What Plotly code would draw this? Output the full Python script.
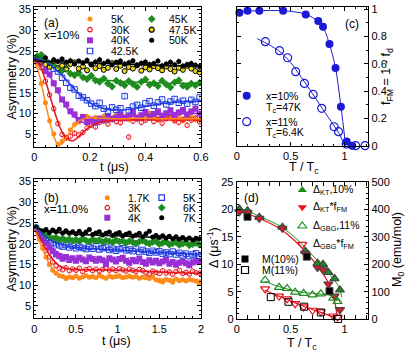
import plotly.graph_objects as go

W, H = 415, 357

# ---------------- panel (a): x = 10 %, asymmetry vs time ----------------
T_A = [0.010, 0.025, 0.040, 0.055, 0.070, 0.085, 0.100, 0.115, 0.130, 0.145,
       0.160, 0.175, 0.190, 0.205, 0.220, 0.235, 0.250, 0.265, 0.280, 0.295,
       0.310, 0.325, 0.340, 0.355, 0.370, 0.385, 0.400, 0.415, 0.430, 0.445,
       0.460, 0.475, 0.490, 0.505, 0.520, 0.535, 0.550, 0.565, 0.580, 0.595]
A_5K = [21.8, 17.2, 12.6, 8.3, 5.1, 2.6, 3.4, 4.2, 6.1, 7.4, 8.0, 8.9, 9.3, 8.4, 9.1, 8.7, 9.4, 8.3, 9.0, 9.6,
        8.8, 9.3, 8.6, 9.8, 9.1, 8.9, 9.7, 10.1, 9.2, 8.6, 9.5, 8.8, 9.4, 8.5, 9.0, 8.3, 8.9, 9.2, 8.6, 8.4]
A_30K = [22.6, 21.0, 17.8, 14.5, 11.2, 7.6, 5.0, 4.2, 4.6, 5.3, 4.9, 5.5, 6.6, 7.2, 6.8, 7.9, 8.3, 7.5, 8.6, 8.1,
         7.8, 8.9, 4.4, 8.2, 8.7, 7.9, 8.4, 9.0, 8.1, 8.6, 7.7, 8.8, 9.1, 8.3, 7.9, 8.6, 7.2, 8.4, 8.9, 8.0]
A_40K = [22.9, 22.3, 20.2, 19.4, 17.3, 15.6, 13.4, 12.2, 10.6, 9.8, 8.5, 9.2, 8.0, 8.6, 7.9, 8.8, 8.4, 9.3, 8.7, 9.1,
         9.8, 8.9, 9.4, 10.2, 9.0, 9.6, 10.4, 9.3, 9.9, 10.6, 9.5, 10.1, 10.8, 9.7, 10.3, 10.9, 9.8, 10.5, 11.2, 10.0]
A_42K = [23.3, 22.9, 22.4, 21.6, 20.8, 20.1, 18.6, 17.4, 16.2, 15.8, 14.3, 13.9, 13.2, 12.4, 11.8, 12.6, 11.2, 10.6, 11.5, 10.9,
         11.3, 14.2, 10.8, 11.7, 12.1, 11.4, 12.5, 13.0, 11.9, 12.7, 13.4, 12.2, 12.9, 13.5, 12.6, 13.1, 12.4, 13.3, 12.8, 13.9]
A_45K = [23.8, 24.1, 22.6, 22.0, 21.5, 20.8, 20.3, 20.9, 19.6, 19.2, 19.8, 18.7, 18.3, 19.1, 18.0, 17.6, 18.4, 17.2, 16.5, 17.9,
         17.4, 16.8, 17.8, 17.1, 16.4, 17.6, 18.2, 16.9, 17.3, 16.6, 17.9, 17.0, 16.3, 17.5, 18.0, 16.7, 16.4, 17.2, 16.8, 17.4]
A_47K = [23.0, 22.4, 21.8, 21.2, 22.6, 20.9, 21.5, 20.6, 21.9, 22.3, 20.8, 21.3, 20.4, 21.8, 20.9, 21.4, 20.5, 21.0, 22.1, 20.7,
         21.5, 20.2, 21.2, 20.8, 21.6, 20.3, 21.1, 20.6, 21.4, 20.9, 20.4, 21.3, 20.7, 20.1, 21.0, 20.5, 21.5, 20.8, 20.2, 19.9]
A_50K = [23.2, 22.8, 23.4, 22.1, 22.9, 22.5, 23.1, 22.3, 22.7, 21.9, 22.6, 22.2, 22.8, 21.8, 22.4, 22.9, 22.0, 22.5, 21.7, 22.3,
         22.6, 21.9, 22.2, 22.7, 21.6, 22.1, 22.4, 21.8, 22.0, 22.6, 21.5, 21.9, 22.3, 21.7, 22.5, 21.4, 21.8, 22.0, 21.6, 21.3]

TF_A = [0, 0.02, 0.04, 0.06, 0.08, 0.09, 0.10, 0.12, 0.14, 0.16, 0.18, 0.20, 0.24, 0.28, 0.32, 0.36, 0.40, 0.45, 0.50, 0.55, 0.60]
FA_5K = [23.0, 18.8, 12.6, 6.9, 3.0, 2.5, 2.8, 4.8, 6.9, 8.2, 8.8, 9.0, 8.9, 8.8, 8.8, 8.9, 8.9, 8.8, 8.8, 8.8, 8.8]
FA_30K = [23.0, 21.6, 18.0, 13.4, 9.0, 7.1, 5.6, 3.9, 3.5, 4.5, 5.8, 6.9, 8.0, 8.4, 8.5, 8.5, 8.5, 8.5, 8.5, 8.5, 8.5]
FA_40K = [23.0, 22.4, 20.8, 18.6, 15.9, 14.6, 13.3, 11.1, 9.5, 8.4, 7.8, 7.6, 8.1, 8.7, 9.1, 9.4, 9.6, 9.8, 9.9, 10.0, 10.1]
FA_42K = [23.2, 23.0, 22.4, 21.6, 20.5, 19.9, 19.2, 17.7, 16.2, 14.8, 13.6, 12.6, 11.4, 10.9, 10.9, 11.2, 11.7, 12.3, 12.7, 12.9, 13.0]
FA_45K = [23.8, 23.3, 22.6, 21.9, 21.2, 20.9, 20.6, 20.1, 19.6, 19.2, 18.9, 18.6, 18.2, 17.9, 17.7, 17.6, 17.5, 17.4, 17.3, 17.3, 17.3]
TF_A50 = [0, 0.6]
FA_50K = [22.6, 21.3]

# ---------------- panel (b): x = 11 % ----------------
T_B = [0.02, 0.06, 0.10, 0.14, 0.18, 0.22, 0.26, 0.30, 0.34, 0.38, 0.42, 0.46, 0.50, 0.54, 0.58, 0.62, 0.66,
       0.70, 0.74, 0.78, 0.82, 0.86, 0.90, 0.94, 0.98, 1.02, 1.06, 1.10, 1.14, 1.18, 1.22, 1.26, 1.30, 1.34,
       1.38, 1.42, 1.46, 1.50, 1.54, 1.58, 1.62, 1.66, 1.70, 1.74, 1.78, 1.82, 1.86, 1.90, 1.94, 1.98]
B_17K = [23.2, 21.0, 18.9, 16.8, 15.0, 13.6, 12.9, 12.3, 12.1, 11.6, 12.0, 11.8, 12.2, 11.7, 12.0, 12.3, 11.9,
         12.1, 11.8, 12.4, 12.0, 11.7, 12.2, 11.9, 12.1, 12.3, 11.8, 12.0, 12.2, 11.9, 12.1, 11.7, 12.0, 11.8,
         11.6, 12.1, 11.3, 11.0, 10.8, 11.4, 11.2, 10.7, 11.5, 11.1, 11.3, 11.0, 11.4, 11.2, 11.0, 10.6]
B_3K = [23.5, 21.9, 20.0, 18.3, 16.8, 15.6, 14.7, 14.0, 13.7, 14.2, 13.5, 13.9, 13.6, 14.1, 13.3, 13.8, 14.0,
        13.5, 13.9, 13.4, 13.8, 14.1, 13.6, 13.9, 13.5, 14.0, 13.7, 13.4, 13.9, 13.6, 13.3, 13.8, 13.5, 13.0,
        12.7, 13.4, 13.1, 12.8, 13.5, 12.9, 13.2, 12.6, 13.3, 13.6, 12.8, 13.1, 12.7, 13.4, 13.0, 12.9]
B_4K = [23.6, 22.6, 21.4, 20.2, 19.1, 18.2, 17.4, 17.0, 16.4, 16.8, 16.1, 16.5, 15.9, 16.6, 16.2, 15.8, 16.7,
        16.3, 15.9, 16.4, 16.0, 15.1, 16.5, 16.2, 15.7, 16.3, 16.6, 15.9, 15.4, 16.1, 15.8, 16.4, 15.6, 15.2,
        16.0, 15.5, 15.9, 15.3, 15.7, 16.1, 15.2, 15.6, 14.9, 15.4, 15.8, 15.3, 14.8, 15.5, 15.9, 15.6]
B_5K = [23.8, 23.0, 22.2, 21.4, 20.8, 20.3, 19.9, 19.6, 19.3, 19.7, 19.1, 19.5, 18.9, 19.3, 19.0, 18.7, 19.2,
        18.8, 19.4, 18.6, 18.9, 19.1, 18.5, 18.8, 18.3, 18.7, 18.9, 18.4, 18.6, 18.2, 18.8, 18.0, 18.5, 18.1,
        17.8, 18.3, 17.9, 18.2, 17.6, 17.9, 17.5, 18.1, 17.4, 17.8, 17.2, 17.6, 17.0, 17.4, 17.7, 17.1]
B_6K = [23.9, 23.1, 22.5, 22.0, 21.6, 21.2, 21.5, 20.9, 21.3, 20.8, 21.1, 20.7, 21.0, 20.6, 21.2, 20.8, 20.5,
        21.0, 20.7, 20.9, 20.4, 20.8, 20.6, 20.3, 20.9, 20.5, 20.7, 20.2, 20.6, 20.4, 20.1, 20.5, 20.8, 20.3,
        20.0, 20.4, 20.6, 19.9, 20.2, 20.5, 19.8, 20.1, 20.4, 19.7, 20.0, 20.3, 19.6, 19.9, 20.2, 19.8]
B_7K = [24.0, 23.2, 23.0, 23.4, 22.7, 23.3, 22.9, 23.5, 22.6, 23.1, 22.5, 22.9, 22.4, 23.0, 22.3, 22.8, 23.4,
        22.2, 22.6, 22.9, 22.1, 22.5, 22.8, 22.0, 22.4, 22.7, 21.9, 22.3, 22.6, 21.8, 22.1, 22.5, 21.7, 22.4,
        23.0, 21.6, 22.0, 21.5, 21.9, 21.4, 21.8, 21.2, 21.7, 21.1, 21.5, 21.0, 21.4, 20.9, 21.3, 21.2]

TF_B = [0, 0.05, 0.1, 0.15, 0.2, 0.25, 0.3, 0.4, 0.5, 0.7, 1.0, 1.5, 2.0]
FB_17K = [23.5, 21.2, 18.7, 16.3, 14.5, 13.3, 12.6, 12.1, 12.0, 11.9, 11.8, 11.5, 11.2]
FB_3K = [23.5, 22.0, 20.2, 18.4, 16.8, 15.6, 14.7, 14.0, 13.8, 13.7, 13.6, 13.2, 12.8]
FB_4K = [23.6, 22.7, 21.6, 20.4, 19.3, 18.4, 17.7, 16.9, 16.5, 16.2, 16.0, 15.7, 15.4]
FB_5K = [23.8, 23.1, 22.3, 21.5, 20.8, 20.3, 19.9, 19.4, 19.1, 18.8, 18.5, 17.9, 17.4]
FB_6K = [23.9, 23.2, 22.5, 22.0, 21.6, 21.3, 21.1, 20.9, 20.8, 20.6, 20.5, 20.2, 19.9]
FB_7K = [23.7, 23.4, 23.2, 23.0, 22.9, 22.8, 22.7, 22.5, 22.3, 22.1, 21.9, 21.5, 21.1]

# ---------------- panel (c): ferromagnetic fraction ----------------
C_T10 = [0.025, 0.10, 0.21, 0.43, 0.64, 0.756, 0.80, 0.86, 0.916, 0.966, 1.02, 1.07]
C_F10 = [0.975, 0.99, 0.99, 0.99, 0.963, 0.914, 0.873, 0.746, 0.57, 0.286, 0.03, 0.0]
C_T11 = [0.266, 0.397, 0.472, 0.547, 0.628, 0.709, 0.788, 0.903, 0.944, 1.016, 1.103, 1.19]
C_F11 = [0.763, 0.697, 0.645, 0.543, 0.457, 0.376, 0.274, 0.139, 0.103, 0.012, 0.0, 0.0]
CF_T10 = [0.025, 0.20, 0.43, 0.64, 0.756, 0.80, 0.86, 0.916, 0.966, 1.01]
CF_F10 = [0.985, 0.99, 0.99, 0.965, 0.912, 0.872, 0.745, 0.57, 0.29, 0.0]
CF_T11 = [0.19, 0.30, 0.40, 0.50, 0.60, 0.70, 0.80, 0.90, 0.95, 1.00]
CF_F11 = [0.785, 0.74, 0.69, 0.61, 0.50, 0.385, 0.265, 0.15, 0.09, 0.0]

# ---------------- panel (d): relaxation rates and M0 ----------------
D_T10 = [0.025, 0.10, 0.21, 0.424, 0.635, 0.75, 0.80, 0.85, 0.907, 0.957]
D_KT10 = [20.1, 19.8, 18.6, 16.8, 12.4, 10.2, 10.0, 8.5, 7.4, 5.3]
D_KTF = [19.6, 19.5, 18.4, 16.6, 12.0, 9.4, 9.0, 6.4, 4.2, 1.7]
D_T11 = [0.263, 0.393, 0.467, 0.542, 0.62, 0.703, 0.78, 0.895, 0.935]
D_GBG11 = [7.1, 5.8, 5.6, 4.9, 4.7, 4.4, 4.6, 3.8, 3.2]
D_GBGF = [5.5, 4.2, 3.7, 2.8, 2.2, 1.6, 1.3, 0.55, 0.35]
D_TM10 = [0.10, 0.65, 0.86]
D_M10 = [374, 228, 102]
D_TM11 = [0.316, 0.48, 0.625, 0.78, 0.94]
D_M11 = [80, 63, 45, 24, 0]
DF_TKT = [0.0, 0.1, 0.2, 0.3, 0.4, 0.5, 0.6, 0.7, 0.8, 0.9, 0.95, 0.975]
DF_KT = [20.3, 19.7, 18.9, 18.0, 17.0, 15.6, 13.8, 11.7, 9.6, 7.3, 5.7, 4.0]
DF_TKTF = [0.0, 0.1, 0.2, 0.3, 0.4, 0.5, 0.6, 0.7, 0.8, 0.85, 0.9, 0.93]
DF_KTF = [19.7, 19.2, 18.5, 17.6, 16.5, 15.0, 13.1, 10.9, 8.3, 6.6, 4.0, 0.8]
DF_TGBG = [0.26, 0.35, 0.45, 0.55, 0.65, 0.75, 0.85, 0.92, 0.96]
DF_GBG = [6.9, 6.2, 5.6, 5.1, 4.8, 4.6, 4.4, 4.0, 3.0]
DF_TGBGF = [0.26, 0.35, 0.45, 0.55, 0.65, 0.75, 0.85, 0.92]
DF_GBGF = [5.3, 4.5, 3.7, 2.9, 2.1, 1.4, 0.7, 0.2]

# ---------------- styling ----------------
ORANGE, RED, PURPLE, BLUE = "#ff8c1a", "#e8141e", "#9a2fd6", "#1f3ae0"
GREEN, YELLOW, BLACK, CBLUE = "#1e8c1e", "#e8d418", "#000000", "#1a1ad6"
FONT = "Liberation Sans, Arial, sans-serif"

STYLE = {
    "5K": (ORANGE, "circle", 5, ORANGE),
    "30K": (RED, "circle-open", 4.5, RED),
    "40K": (PURPLE, "square", 6, PURPLE),
    "42.5K": (BLUE, "square-open", 5.5, BLUE),
    "45K": (GREEN, "diamond", 6, GREEN),
    "47.5K": (YELLOW, "circle", 5, BLACK),
    "50K": (BLACK, "circle", 5, BLACK),
}
STYLE_B = {
    "1.7K": STYLE["5K"], "3K": STYLE["30K"], "4K": STYLE["40K"],
    "5K": STYLE["42.5K"], "6K": STYLE["45K"], "7K": STYLE["50K"],
}


def fade(hexcol, a=0.45):
    h = hexcol.lstrip("#")
    r, g, b = int(h[0:2], 16), int(h[2:4], 16), int(h[4:6], 16)
    return f"rgba({r},{g},{b},{a})"


fig = go.Figure()


def data_trace(x, y, style, xa, ya, err):
    col, sym, size, edge = style
    fig.add_trace(go.Scatter(
        x=x, y=y, mode="markers", xaxis=xa, yaxis=ya, showlegend=False,
        marker=dict(color=col, symbol=sym, size=size,
                    line=dict(color=edge, width=1 if sym.endswith("open") or edge != col else 0)),
        error_y=dict(type="constant", value=err, color=fade(col), thickness=1, width=0),
        cliponaxis=True))


def fit_trace(x, y, col, xa, ya, width=1.5):
    fig.add_trace(go.Scatter(x=x, y=y, mode="lines", xaxis=xa, yaxis=ya, showlegend=False,
                             line=dict(color=col, width=width, shape="spline", smoothing=0.8)))


# panel (a)
for name, vals in [("5K", A_5K), ("30K", A_30K), ("40K", A_40K), ("42.5K", A_42K),
                   ("45K", A_45K), ("47.5K", A_47K), ("50K", A_50K)]:
    data_trace(T_A, vals, STYLE[name], "x", "y", 0.8)
for vals, col in [(FA_45K, GREEN), (FA_42K, BLUE), (FA_40K, PURPLE), (FA_30K, RED), (FA_5K, ORANGE)]:
    fit_trace(TF_A, vals, col, "x", "y")
fit_trace(TF_A50, FA_50K, BLACK, "x", "y")

# panel (b)
for name, vals in [("1.7K", B_17K), ("3K", B_3K), ("4K", B_4K), ("5K", B_5K), ("6K", B_6K), ("7K", B_7K)]:
    data_trace(T_B, vals, STYLE_B[name], "x2", "y2", 0.45)
for vals, col in [(FB_7K, BLACK), (FB_6K, GREEN), (FB_5K, BLUE), (FB_4K, PURPLE), (FB_3K, RED), (FB_17K, ORANGE)]:
    fit_trace(TF_B, vals, col, "x2", "y2")

# panel (c)
fit_trace(CF_T10, CF_F10, CBLUE, "x3", "y3", 1)
fit_trace(CF_T11, CF_F11, CBLUE, "x3", "y3", 1)
fig.add_trace(go.Scatter(x=C_T10, y=C_F10, mode="markers", xaxis="x3", yaxis="y3", showlegend=False,
                         cliponaxis=False, marker=dict(color=CBLUE, size=8, symbol="circle")))
fig.add_trace(go.Scatter(x=C_T11, y=C_F11, mode="markers", xaxis="x3", yaxis="y3", showlegend=False,
                         cliponaxis=False,
                         marker=dict(color=CBLUE, size=8, symbol="circle-open", line=dict(width=1.2))))

# panel (d)
fit_trace(DF_TKT, DF_KT, GREEN, "x4", "y4", 1)
fit_trace(DF_TGBG, DF_GBG, GREEN, "x4", "y4", 1)
fit_trace(DF_TKTF, DF_KTF, RED, "x4", "y4", 1.2)
fit_trace(DF_TGBGF, DF_GBGF, RED, "x4", "y4", 1.2)
for x, y, col, sym in [(D_T10, D_KT10, GREEN, "triangle-up"), (D_T10, D_KTF, RED, "triangle-down"),
                       (D_T11, D_GBG11, GREEN, "triangle-up-open"), (D_T11, D_GBGF, RED, "triangle-down-open")]:
    fig.add_trace(go.Scatter(x=x, y=y, mode="markers", xaxis="x4", yaxis="y4", showlegend=False,
                             cliponaxis=False, marker=dict(color=col, size=8, symbol=sym, line=dict(width=1.2))))
for x, y, sym in [(D_TM10, D_M10, "square"), (D_TM11, D_M11, "square-open")]:
    fig.add_trace(go.Scatter(x=x, y=y, mode="markers", xaxis="x4", yaxis="y5", showlegend=False,
                             cliponaxis=False, marker=dict(color=BLACK, size=7, symbol=sym, line=dict(width=1))))

# legend keys, drawn on a pixel-space overlay
KEYS = [
    (90, 19, STYLE["5K"]), (90, 29.7, STYLE["30K"]), (90, 40.3, STYLE["40K"]), (90, 51, STYLE["42.5K"]),
    (151.7, 19, STYLE["45K"]), (151.7, 29.7, STYLE["47.5K"]), (151.7, 40.3, STYLE["50K"]),
    (107.3, 197.7, STYLE_B["1.7K"]), (107.3, 207.7, STYLE_B["3K"]), (107.3, 217.7, STYLE_B["4K"]),
    (161.7, 197.7, STYLE_B["5K"]), (161.7, 207.7, STYLE_B["6K"]), (161.7, 217.7, STYLE_B["7K"]),
    (246.7, 95.7, (CBLUE, "circle", 8, CBLUE)), (246.7, 121.7, (CBLUE, "circle-open", 8, CBLUE)),
    (302.3, 190, (GREEN, "triangle-up", 8, GREEN)), (302.3, 207.3, (RED, "triangle-down", 8, RED)),
    (302.3, 226, (GREEN, "triangle-up-open", 8, GREEN)), (302.3, 244.3, (RED, "triangle-down-open", 8, RED)),
    (245, 259, (BLACK, "square", 7, BLACK)), (245, 270, (BLACK, "square-open", 7, BLACK)),
]
for kx, ky, (col, sym, size, edge) in KEYS:
    fig.add_trace(go.Scatter(x=[kx], y=[ky], mode="markers", xaxis="x5", yaxis="y6", showlegend=False,
                             cliponaxis=False, hoverinfo="skip",
                             marker=dict(color=col, symbol=sym, size=size,
                                         line=dict(color=edge, width=1.2 if (sym.endswith("open") or edge != col) else 0))))

annotations = []


def label(x, y, text, size=11, xanchor="left", angle=0):
    annotations.append(dict(x=x / W, y=1 - y / H, xref="paper", yref="paper", text=text, showarrow=False,
                            xanchor=xanchor, yanchor="middle", textangle=angle,
                            font=dict(family=FONT, size=size, color="black")))


for tx, ty, t in [(109, 19, "5K"), (109, 29.7, "30K"), (109, 40.3, "40K"), (109, 51, "42.5K"),
                  (166.5, 19, "45K"), (166.5, 29.7, "47.5K"), (166.5, 40.3, "50K"),
                  (126, 197.7, "1.7K"), (126, 207.7, "3K"), (126, 217.7, "4K"),
                  (180.7, 197.7, "5K"), (180.7, 207.7, "6K"), (180.7, 217.7, "7K")]:
    label(tx, ty, t, 10.5)
label(42, 23.3, "(a)", 12)
label(41.5, 35, "x=10%", 11.5)
label(41.5, 198.3, "(b)", 12)
label(41.5, 209, "x=11.0%", 11.5)
label(343, 24, "(c)", 12)
label(241.5, 198.3, "(d)", 12)
label(264, 95.7, "x=10%", 10.5)
label(264, 107.5, "T<sub>c</sub>=47K", 10.5)
label(264, 121.7, "x=11%", 10.5)
label(264, 133, "T<sub>c</sub>=6.4K", 10.5)
label(311, 190, "Δ<sub>KT</sub>,10%", 10.5)
label(311, 207.3, "Δ<sub>KT</sub>*f<sub>FM</sub>", 10.5)
label(311, 226, "Δ<sub>GBG</sub>,11%", 10.5)
label(311, 244.3, "Δ<sub>GBG</sub>*f<sub>FM</sub>", 10.5)
label(260, 259, "M(10%)", 10.5)
label(260, 270, "M(11%)", 10.5)
# axis titles
label(11.5, 77, "Asymmetry (%)", 12.5, "center", -90)
label(11.5, 249, "Asymmetry (%)", 12.5, "center", -90)
label(114, 166.5, "t (μs)", 12.5, "center")
label(116, 341, "t (μs)", 12.5, "center")
label(304, 167.5, "T / T<sub>c</sub>", 12.5, "center")
label(302, 343.5, "T / T<sub>c</sub>", 12.5, "center")
label(387, 77, "f<sub>FM</sub> = 1 - f<sub>d</sub>", 12.5, "center", -90)
label(213, 247, "Δ (μs<sup>-1</sup>)", 12.5, "center", -90)
label(398, 250, "M<sub>0</sub> (emu/mol)", 12.5, "center", -90)


def axis(dom, rng, dtick, minor, **kw):
    d = dict(domain=dom, range=rng, dtick=dtick, tick0=0, showline=True, linecolor="black", linewidth=1,
             mirror="allticks", ticks="inside", ticklen=4, tickwidth=1, tickcolor="black",
             showgrid=False, zeroline=False, automargin=False,
             tickfont=dict(family=FONT, size=11, color="black"),
             minor=dict(ticks="inside", ticklen=2, dtick=minor, tick0=0, tickcolor="black", showgrid=False))
    d.update(kw)
    return d


XA = [34.3 / W, 201 / W]
XC = [236.7 / W, 368.3 / W]
fig.update_layout(
    width=W, height=H, margin=dict(l=0, r=0, t=0, b=0),
    paper_bgcolor="white", plot_bgcolor="rgba(0,0,0,0)", showlegend=False,
    font=dict(family=FONT, size=11, color="black"),
    xaxis=axis(XA, [0, 0.6], 0.2, 0.04, anchor="y"),
    yaxis=axis([1 - 147 / H, 1 - 7.3 / H], [2, 35.5], 5, 1, anchor="x"),
    xaxis2=axis(XA, [0, 2], 0.5, 0.1, anchor="y2"),
    yaxis2=axis([1 - 318.4 / H, 1 - 179.4 / H], [2, 35.5], 5, 1, anchor="x2"),
    xaxis3=axis(XC, [0, 1.22], 0.5, 0.1, anchor="y3"),
    yaxis3=axis([1 - 145.7 / H, 1 - 7.3 / H], [0, 1.015], 0.2, 0.1, anchor="x3", side="right"),
    xaxis4=axis(XC, [0, 1.22], 0.5, 0.1, anchor="y4"),
    yaxis4=axis([1 - 319 / H, 1 - 182.3 / H], [0, 25], 5, 1, anchor="x4", mirror=False),
    yaxis5=axis([1 - 319 / H, 1 - 182.3 / H], [0, 500], 100, 20, anchor="x4", overlaying="y4",
                side="right", mirror=False),
    xaxis5=dict(domain=[0, 1], range=[0, W], visible=False, anchor="y6", fixedrange=True),
    yaxis6=dict(domain=[0, 1], range=[H, 0], visible=False, anchor="x5", fixedrange=True),
    annotations=annotations,
)

# the page body has a default 8px margin; drop it so the figure sits at the window's corner
fig.write_html("out.html", config={"displayModeBar": False},
               post_script="document.body.style.margin='0';")
